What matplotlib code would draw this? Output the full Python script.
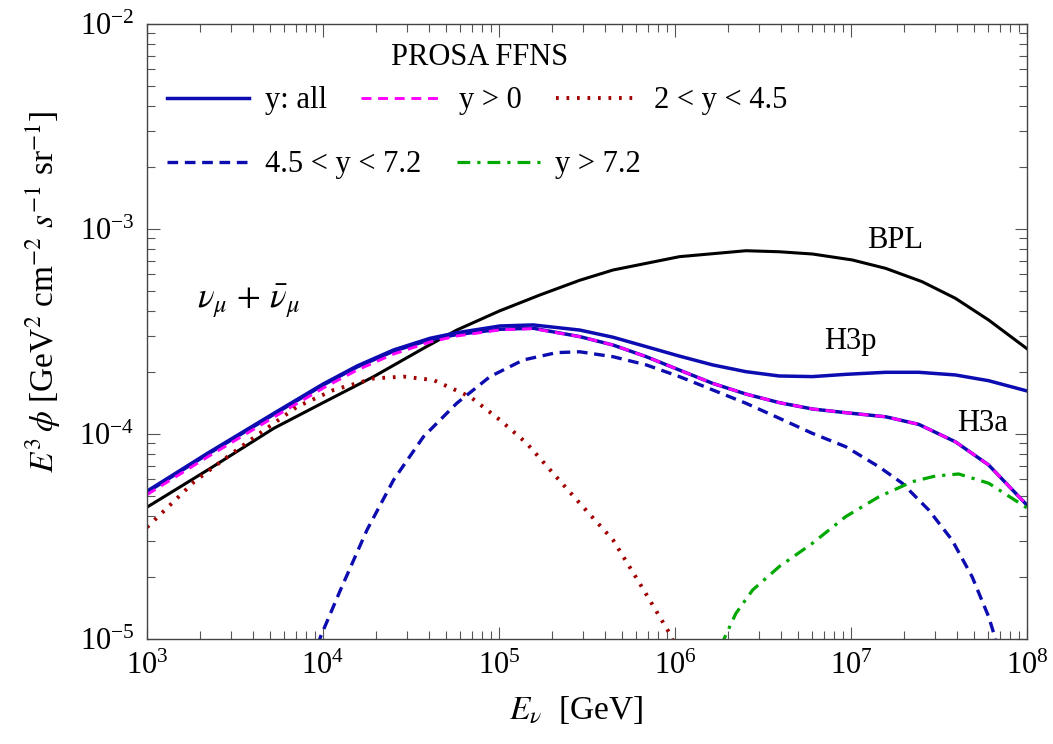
import numpy as np
import matplotlib
matplotlib.use("agg")
import matplotlib.pyplot as plt

plt.rcParams['font.family'] = 'serif'
plt.rcParams['font.serif'] = ['Liberation Serif', 'DejaVu Serif']
plt.rcParams['mathtext.fontset'] = 'stix'

# values, as log10(E / GeV) and log10(E^3 phi)
bpl_logE = [3.0, 3.344, 3.721, 4.001, 4.288, 4.571, 4.760, 5.002, 5.232, 5.459, 5.648,
            6.025, 6.403, 6.592, 6.781, 7.007, 7.197, 7.404, 7.593, 7.782, 8.0]
bpl_logF = [-4.357, -4.176, -3.972, -3.847, -3.720, -3.582, -3.493, -3.400, -3.322, -3.250, -3.200,
            -3.135, -3.106, -3.111, -3.122, -3.151, -3.192, -3.257, -3.338, -3.444, -3.584]

# H3p and H3a share the energy grid
h3_logE = [3.0, 3.344, 3.721, 4.001, 4.194, 4.401, 4.609, 4.760, 5.006, 5.194, 5.459, 5.648,
           5.837, 6.025, 6.214, 6.403, 6.592, 6.781, 6.970, 7.197, 7.385, 7.593, 7.782, 8.0]
h3p_all = [-4.279, -4.094, -3.899, -3.756, -3.668, -3.590, -3.533, -3.506, -3.473, -3.468, -3.493, -3.528,
           -3.574, -3.620, -3.663, -3.696, -3.717, -3.720, -3.709, -3.699, -3.699, -3.712, -3.740, -3.790]
h3a_all = [-4.284, -4.099, -3.904, -3.761, -3.673, -3.596, -3.540, -3.515, -3.489, -3.484, -3.525, -3.566,
           -3.623, -3.688, -3.753, -3.805, -3.847, -3.878, -3.896, -3.916, -3.953, -4.038, -4.151, -4.347]
h3a_ypos = [-4.296, -4.112, -3.918, -3.776, -3.688, -3.610, -3.551, -3.522, -3.492, -3.486, -3.525, -3.566,
            -3.623, -3.688, -3.753, -3.805, -3.847, -3.878, -3.896, -3.916, -3.953, -4.038, -4.151, -4.347]

low_logE = [3.0, 3.023, 3.268, 3.457, 3.627, 3.853, 4.061, 4.288, 4.458, 4.628, 4.836, 5.006,
            5.157, 5.308, 5.459, 5.648, 5.799, 5.969, 6.0]
low_logF = [-4.455, -4.436, -4.233, -4.111, -4.005, -3.867, -3.785, -3.729, -3.720, -3.737, -3.818, -3.932,
            -4.045, -4.192, -4.338, -4.517, -4.728, -4.972, -5.03]

mid_logE = [3.97, 3.986, 4.099, 4.250, 4.401, 4.571, 4.760, 4.949, 5.138, 5.327, 5.459, 5.648, 5.837,
            6.025, 6.214, 6.403, 6.592, 6.781, 6.970, 7.159, 7.291, 7.442, 7.574, 7.688, 7.782, 7.820, 7.84]
mid_logF = [-5.03, -4.989, -4.761, -4.468, -4.224, -4.013, -3.850, -3.720, -3.639, -3.603, -3.599, -3.623, -3.663,
            -3.720, -3.785, -3.850, -3.923, -3.997, -4.062, -4.160, -4.240, -4.371, -4.517, -4.696, -4.891, -4.997, -5.1]

high_logE = [6.265, 6.280, 6.346, 6.441, 6.592, 6.781, 6.970, 7.159, 7.347, 7.479, 7.612, 7.782, 7.990, 8.0]
high_logF = [-5.04, -4.997, -4.875, -4.761, -4.647, -4.533, -4.403, -4.306, -4.233, -4.205, -4.195, -4.240, -4.355, -4.362]

blue = '#0c0cb0'
magenta = '#ff00ff'
red = '#a00000'
green = '#00a800'


def pw(a):
    return 10.0 ** np.asarray(a)


fig = plt.figure(figsize=(10.53, 7.44), dpi=100)
ax = fig.add_axes([147 / 1053, 1 - 639 / 744, 880 / 1053, 615 / 744])

ax.plot(pw(bpl_logE), pw(bpl_logF), color='black', lw=2.2)
l_all, = ax.plot(pw(h3_logE), pw(h3p_all), color=blue, lw=2.5)
ax.plot(pw(h3_logE), pw(h3a_all), color=blue, lw=2.5)
l_pos, = ax.plot(pw(h3_logE), pw(h3a_ypos), color=magenta, lw=2.1, dashes=(3.4, 2.3))
l_low, = ax.plot(pw(low_logE), pw(low_logF), color=red, lw=2.8, dashes=(0.7, 2.0))
l_mid, = ax.plot(pw(mid_logE), pw(mid_logF), color=blue, lw=2.4, dashes=(3.2, 2.0))
l_high, = ax.plot(pw(high_logE), pw(high_logF), color=green, lw=2.3, dashes=(4.0, 2.2, 1.0, 2.2))

ax.set_xscale('log')
ax.set_yscale('log')
ax.set_xlim(1e3, 1e8)
ax.set_ylim(1e-5, 1e-2)

for s in ax.spines.values():
    s.set_color('#444444')
    s.set_linewidth(1.0)
ax.tick_params(which='both', direction='in', top=True, right=True, color='#555555',
               labelsize=22, width=0.8)
ax.tick_params(which='major', length=9, pad=9)
ax.tick_params(which='minor', length=5.5)

ax.set_xlabel(r'$E_\nu$  [GeV]', fontsize=24)
ax.xaxis.set_label_coords(0.4875, -0.09)
ax.set_ylabel(r'$E^3\,\phi$ [GeV$^2$ cm$^{-2}$ $s^{-1}$ sr$^{-1}$]', fontsize=24)
ax.yaxis.set_label_coords(-0.095, 0.564)

leg_kw = dict(frameon=False, fontsize=22, handlelength=2.7, handletextpad=0.5,
              borderpad=0, borderaxespad=0, loc='center left')
leg1 = ax.legend([l_all, l_pos, l_low], ['y: all', 'y > 0', '2 < y < 4.5'], ncol=3,
                 columnspacing=1.12, bbox_to_anchor=(0.0227, 0.875), **leg_kw)
ax.add_artist(leg1)
ax.legend([l_mid, l_high], ['4.5 < y < 7.2', 'y > 7.2'], ncol=2,
          columnspacing=1.18, bbox_to_anchor=(0.0227, 0.771), **leg_kw)

ax.text(0.378, 0.946, 'PROSA FFNS', transform=ax.transAxes, fontsize=22,
        ha='center', va='center')
ax.text(0.85, 0.636, 'BPL', transform=ax.transAxes, fontsize=22, ha='center', va='baseline')
ax.text(0.799, 0.4715, 'H3p', transform=ax.transAxes, fontsize=22, ha='center', va='baseline')
ax.text(0.949, 0.338, 'H3a', transform=ax.transAxes, fontsize=22, ha='center', va='baseline')
ax.text(0.057, 0.538, r'$\nu_\mu\,+\,\bar{\nu}_\mu$', transform=ax.transAxes, fontsize=25,
        ha='left', va='baseline')

fig.savefig('out.png', dpi=100)
